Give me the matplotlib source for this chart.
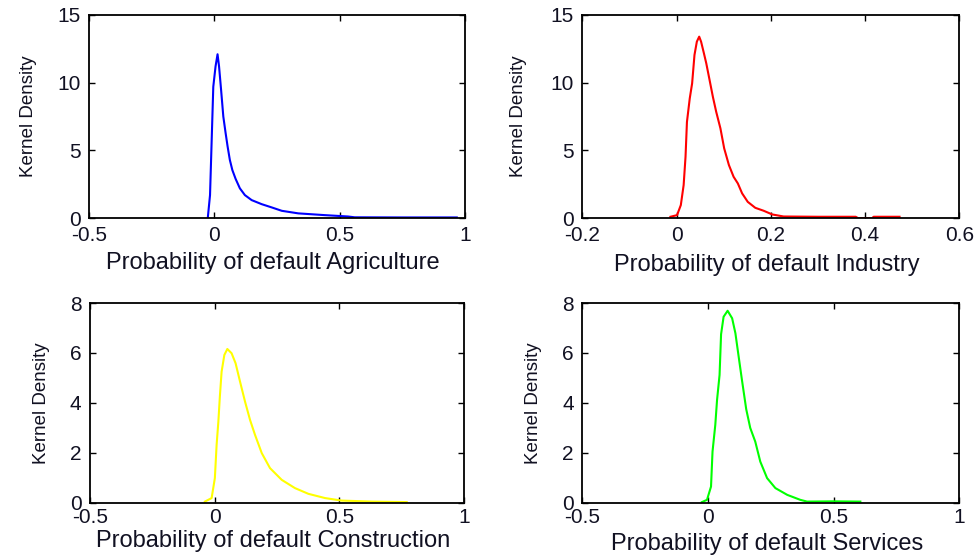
import matplotlib
matplotlib.use("Agg")
from matplotlib import pyplot as plt

plt.rcParams['font.family'] = ['Liberation Sans', 'DejaVu Sans']

# kernel density curves
agri_x = [-0.026, -0.017, -0.010, -0.004, 0.005, 0.013, 0.019, 0.027, 0.036, 0.045,
          0.053, 0.062, 0.072, 0.085, 0.102, 0.122, 0.149, 0.189, 0.229, 0.269,
          0.335, 0.441, 0.533, 0.56, 0.75, 0.967]
agri_y = [0.0, 1.7, 6.0, 9.7, 11.2, 12.1, 11.2, 9.5, 7.5, 6.3,
          5.3, 4.3, 3.55, 2.9, 2.2, 1.7, 1.33, 1.03, 0.79, 0.54,
          0.35, 0.22, 0.12, 0.06, 0.05, 0.05]

ind_x = [-0.013, 0.001, 0.009, 0.015, 0.019, 0.022, 0.028, 0.033, 0.038, 0.043,
         0.048, 0.052, 0.058, 0.063, 0.070, 0.077, 0.084, 0.093, 0.101, 0.111,
         0.121, 0.130, 0.139, 0.151, 0.167, 0.185, 0.203, 0.227, 0.30, 0.38,
         0.385, 0.415, 0.418, 0.473]
ind_y = [0.1, 0.22, 0.96, 2.44, 4.53, 7.1, 8.85, 9.95, 12.05, 13.03,
         13.4, 13.03, 12.17, 11.43, 10.2, 8.96, 7.86, 6.63, 5.15, 3.92,
         3.05, 2.56, 1.83, 1.2, 0.76, 0.54, 0.27, 0.12, 0.1, 0.1,
         0.0, 0.0, 0.1, 0.1]

cons_x = [-0.039, -0.012, 0.001, 0.008, 0.015, 0.021, 0.028, 0.039, 0.051, 0.068,
          0.084, 0.102, 0.122, 0.142, 0.162, 0.189, 0.222, 0.269, 0.322, 0.376,
          0.443, 0.509, 0.63, 0.77]
cons_y = [0.05, 0.19, 0.99, 2.32, 3.25, 4.25, 5.25, 5.92, 6.16, 5.99,
          5.59, 4.85, 4.05, 3.32, 2.72, 1.99, 1.39, 0.92, 0.59, 0.36,
          0.19, 0.09, 0.05, 0.03]

serv_x = [-0.024, -0.004, 0.012, 0.018, 0.029, 0.036, 0.046, 0.052, 0.062, 0.078,
          0.096, 0.109, 0.122, 0.135, 0.152, 0.168, 0.188, 0.208, 0.235, 0.268,
          0.315, 0.367, 0.394, 0.5, 0.606]
serv_y = [0.03, 0.12, 0.65, 2.05, 3.12, 4.12, 5.12, 6.75, 7.45, 7.69,
          7.39, 6.79, 5.85, 4.92, 3.75, 3.0, 2.45, 1.65, 0.99, 0.59,
          0.32, 0.12, 0.05, 0.06, 0.05]

panels = [
    (agri_x, agri_y, '#0000ff', 'Agriculture', [-0.5, 0, 0.5, 1], [0, 5, 10, 15]),
    (ind_x, ind_y, '#ff0000', 'Industry', [-0.2, 0, 0.2, 0.4, 0.6], [0, 5, 10, 15]),
    (cons_x, cons_y, '#ffff00', 'Construction', [-0.5, 0, 0.5, 1], [0, 2, 4, 6, 8]),
    (serv_x, serv_y, '#00ff00', 'Services', [-0.5, 0, 0.5, 1], [0, 2, 4, 6, 8]),
]

# axes boxes in figure fractions (left, bottom, width, height)
boxes = [
    [0.091, 0.607, 0.385, 0.366],
    [0.596, 0.607, 0.386, 0.366],
    [0.092, 0.094, 0.383, 0.360],
    [0.596, 0.094, 0.386, 0.360],
]
ylab_x = [-0.138, -0.146, -0.107, -0.106]
xlab_y = [-0.165, -0.175, -0.135, -0.15]
xpad = [6, 6, 4, 4]

txt = '#111122'
fig = plt.figure(figsize=(9.77, 5.55), dpi=100)

for i, (x, y, col, name, xt, yt) in enumerate(panels):
    ax = fig.add_axes(boxes[i])
    ax.plot(x, y, color=col, linewidth=1.5)
    ax.set_xlim(xt[0], xt[-1])
    ax.set_ylim(yt[0], yt[-1])
    ax.set_xticks(xt)
    ax.set_yticks(yt)
    ax.set_xticklabels(['{:g}'.format(v) for v in xt])
    ax.set_yticklabels(['{:g}'.format(v) for v in yt])
    ax.tick_params(direction='in', length=4, width=1, top=True, right=True,
                   labelsize=15, labelcolor=txt)
    ax.tick_params(axis='x', pad=xpad[i])
    ax.tick_params(axis='y', pad=6)
    for s in ax.spines.values():
        s.set_linewidth(1.3)
    ax.set_xlabel('Probability of default ' + name, fontsize=17, color=txt)
    ax.xaxis.set_label_coords(0.49, xlab_y[i])
    ax.set_ylabel('Kernel Density', fontsize=13.5, color=txt)
    ax.yaxis.set_label_coords(ylab_x[i], 0.5)

plt.savefig('out.png', dpi=100)
